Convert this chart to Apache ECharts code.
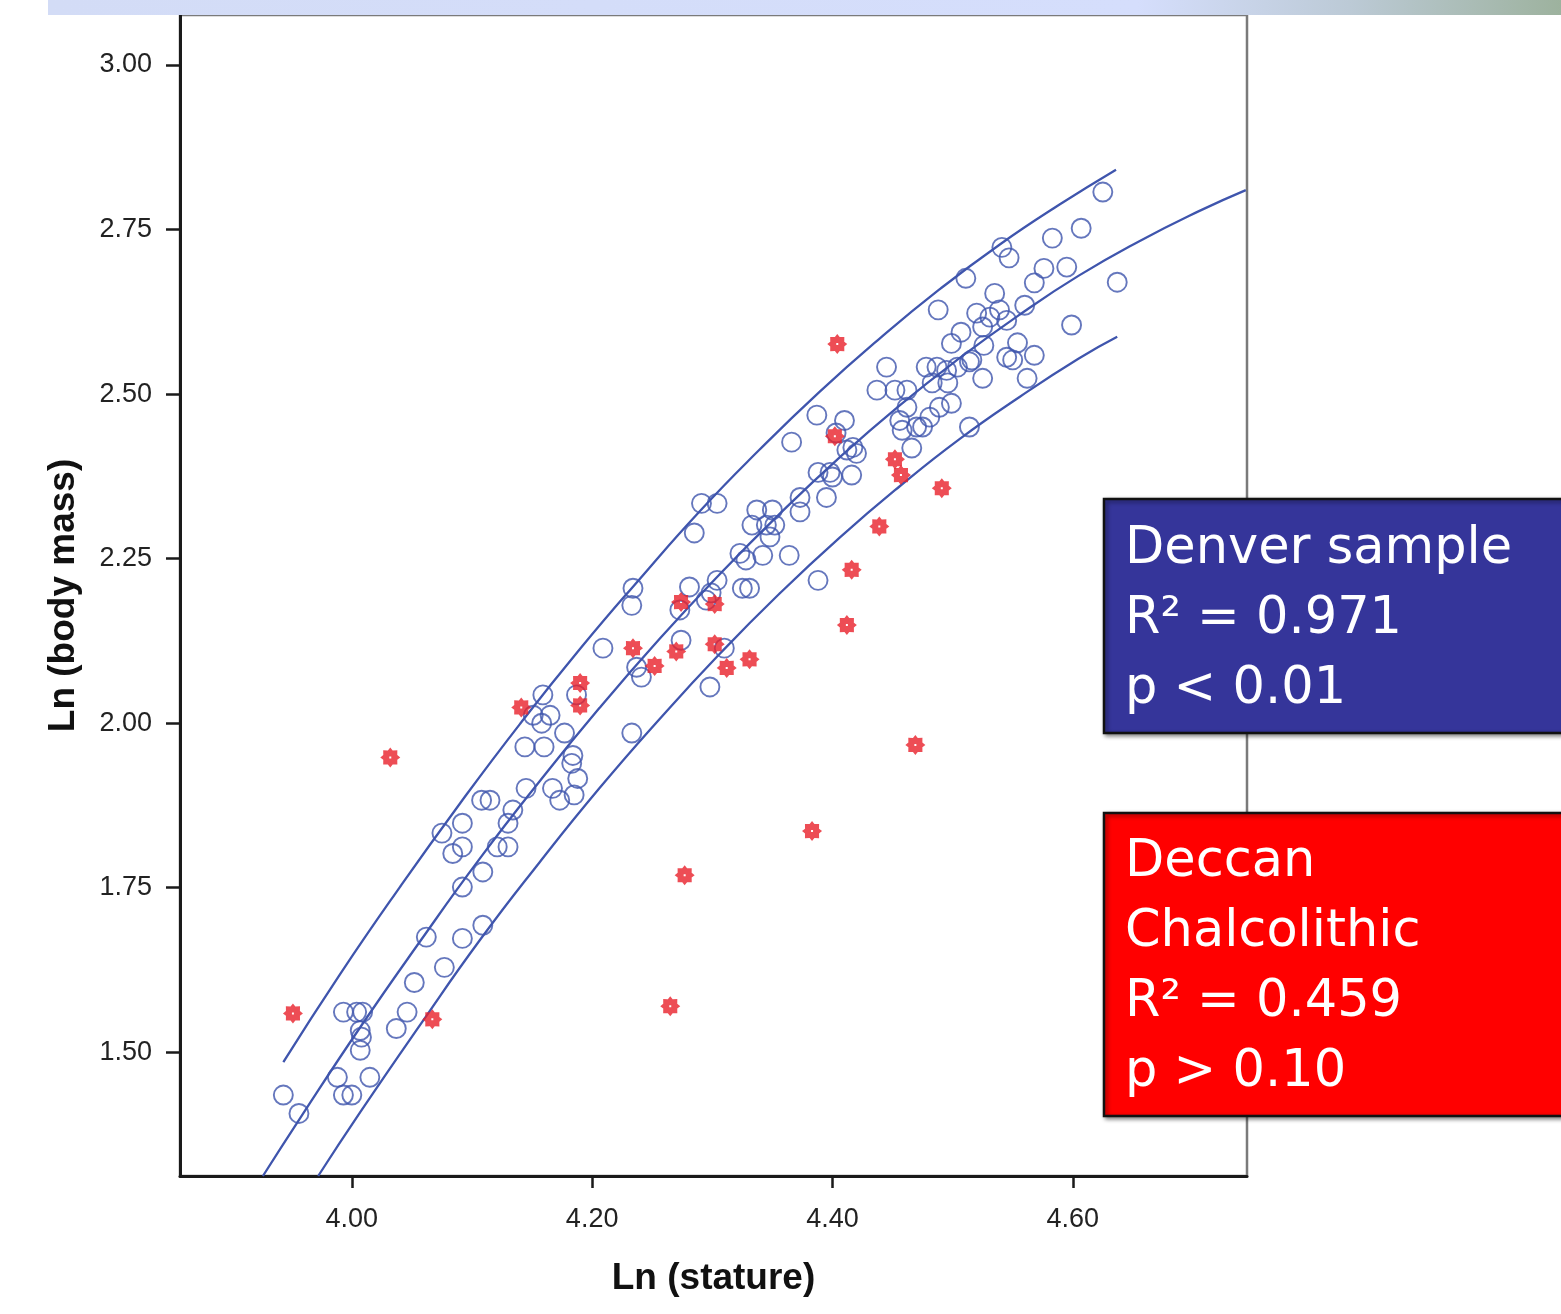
<!DOCTYPE html>
<html>
<head>
<meta charset="utf-8">
<title>Ln (body mass) vs Ln (stature)</title>
<script src="https://cdn.jsdelivr.net/npm/echarts@6/dist/echarts.min.js"></script>
<style>
  html, body { margin: 0; padding: 0; background: #ffffff; }
  #chart { width: 1561px; height: 1314px; }
</style>
</head>
<body>
<div id="chart"></div>
<script>
// Denver sample: Ln (stature), Ln (body mass)
const denverStature = [
  3.943, 3.956, 3.988, 3.993, 4.000, 4.015, 3.993, 4.004, 4.009, 4.007,
  4.008, 4.007, 4.037, 4.046, 4.052, 4.062, 4.077, 4.092, 4.109, 4.092,
  4.109, 4.075, 4.084, 4.092, 4.092, 4.108, 4.115, 4.121, 4.130, 4.130,
  4.134, 4.145, 4.167, 4.185, 4.173, 4.188, 4.183, 4.184, 4.144, 4.160,
  4.177, 4.151, 4.165, 4.158, 4.159, 4.187, 4.209, 4.233, 4.234, 4.237,
  4.241, 4.233, 4.274, 4.273, 4.281, 4.295, 4.299, 4.304, 4.310, 4.298,
  4.325, 4.331, 4.323, 4.328, 4.342, 4.364, 4.388, 4.285, 4.291, 4.304,
  4.333, 4.345, 4.352, 4.348, 4.337, 4.350, 4.373, 4.373, 4.395, 4.366,
  4.387, 4.410, 4.403, 4.412, 4.417, 4.388, 4.398, 4.400, 4.416, 4.445,
  4.437, 4.452, 4.462, 4.478, 4.487, 4.495, 4.499, 4.507, 4.516, 4.496,
  4.483, 4.489, 4.499, 4.462, 4.456, 4.458, 4.475, 4.481, 4.466, 4.514,
  4.420, 4.625, 4.607, 4.583, 4.541, 4.547, 4.511, 4.576, 4.595, 4.568,
  4.637, 4.535, 4.488, 4.560, 4.520, 4.539, 4.545, 4.531, 4.525, 4.526,
  4.554, 4.568, 4.545, 4.550, 4.599, 4.525, 4.562, 4.514, 4.504, 4.470
];
const denverMass = [
  1.435, 1.407, 1.462, 1.435, 1.435, 1.462, 1.561, 1.561, 1.561, 1.533,
  1.523, 1.503, 1.536, 1.561, 1.606, 1.675, 1.629, 1.673, 1.693, 1.751,
  1.774, 1.833, 1.802, 1.812, 1.848, 1.883, 1.883, 1.812, 1.812, 1.848,
  1.868, 1.901, 1.901, 1.891, 1.883, 1.916, 1.939, 1.951, 1.964, 1.964,
  1.985, 2.012, 2.012, 2.000, 2.043, 2.043, 2.114, 2.179, 2.205, 2.085,
  2.070, 1.985, 2.126, 2.172, 2.207, 2.187, 2.198, 2.217, 2.114, 2.055,
  2.205, 2.205, 2.258, 2.248, 2.255, 2.255, 2.217, 2.289, 2.334, 2.334,
  2.301, 2.301, 2.301, 2.283, 2.324, 2.324, 2.343, 2.321, 2.343, 2.427,
  2.468, 2.460, 2.441, 2.415, 2.419, 2.381, 2.381, 2.374, 2.377, 2.541,
  2.506, 2.506, 2.506, 2.541, 2.541, 2.536, 2.577, 2.594, 2.552, 2.517,
  2.517, 2.480, 2.486, 2.480, 2.460, 2.445, 2.450, 2.465, 2.418, 2.450,
  2.410, 2.807, 2.752, 2.737, 2.723, 2.707, 2.676, 2.691, 2.693, 2.669,
  2.670, 2.653, 2.628, 2.635, 2.623, 2.628, 2.612, 2.617, 2.602, 2.574,
  2.578, 2.559, 2.556, 2.552, 2.605, 2.524, 2.524, 2.549, 2.541, 2.450
];

// Deccan Chalcolithic sample
const deccanStature = [
  3.951, 4.032, 4.067, 4.141, 4.190, 4.190, 4.234, 4.252, 4.265, 4.270,
  4.274, 4.277, 4.302, 4.302, 4.312, 4.331, 4.383, 4.404, 4.402, 4.412,
  4.416, 4.439, 4.452, 4.457, 4.469, 4.491
];
const deccanMass = [
  1.559, 1.948, 1.550, 2.024, 2.061, 2.027, 2.114, 2.087, 1.570, 2.109,
  2.184, 1.769, 2.181, 2.120, 2.084, 2.097, 1.836, 2.576, 2.436, 2.149,
  2.233, 2.299, 2.401, 2.377, 1.967, 2.357
];

// Quadratic fit line for the Denver sample
const fitStature = [3.926, 3.957, 4.007, 4.057, 4.106, 4.156, 4.206, 4.256, 4.306,
  4.356, 4.406, 4.456, 4.506, 4.556, 4.605, 4.655, 4.705, 4.744];
const fitMass = [1.312, 1.400, 1.538, 1.669, 1.793, 1.911, 2.023, 2.128, 2.226,
  2.318, 2.404, 2.483, 2.555, 2.621, 2.680, 2.732, 2.778, 2.810];

// Upper and lower prediction bounds
const upperStature = [3.943, 3.990, 4.040, 4.090, 4.140, 4.190, 4.240, 4.289,
  4.339, 4.389, 4.439, 4.489, 4.539, 4.589, 4.636];
const upperMass = [1.485, 1.618, 1.751, 1.878, 1.999, 2.113, 2.220, 2.321,
  2.415, 2.503, 2.584, 2.659, 2.727, 2.788, 2.841];
const lowerStature = [3.972, 4.007, 4.057, 4.106, 4.156, 4.206, 4.256, 4.306,
  4.356, 4.406, 4.456, 4.506, 4.556, 4.605, 4.637];
const lowerMass = [1.312, 1.409, 1.542, 1.669, 1.788, 1.901, 2.006, 2.105,
  2.197, 2.282, 2.360, 2.432, 2.496, 2.554, 2.587];

// Axis ticks
const xTicks = [4.00, 4.20, 4.40, 4.60];
const yTicks = [1.50, 1.75, 2.00, 2.25, 2.50, 2.75, 3.00];

const zip = (xs, ys) => xs.map((x, i) => [x, ys[i]]);

const BLUE = '#3f55ad';
// 8-point gear-like star with a small hollow centre
const STAR = 'path://M20 10 L17 12.4 L17.07 17.07 L12.4 17 L10 20 L7.6 17 L2.93 17.07 L3 12.4 L0 10 L3 7.6 L2.93 2.93 L7.6 3 L10 0 L12.4 3 L17.07 2.93 L17 7.6 Z M11 9 L9 9 L9 11 L11 11 Z';

const curve = (name, xs, ys) => ({
  name: name,
  type: 'line',
  data: zip(xs, ys),
  showSymbol: false,
  smooth: true,
  clip: true,
  lineStyle: { color: BLUE, width: 2.3 },
  z: 2,
  silent: true
});

const chart = echarts.init(document.getElementById('chart'), null, { renderer: 'canvas' });

chart.setOption({
  animation: false,
  backgroundColor: '#ffffff',
  grid: {
    left: 180, right: 314, top: 15, bottom: 138,
    show: true, backgroundColor: '#ffffff',
    borderColor: '#7a7a7a', borderWidth: 2.5
  },
  xAxis: {
    type: 'value',
    min: 3.857, max: 4.745,
    name: 'Ln (stature)',
    nameLocation: 'middle',
    nameGap: 84,
    nameTextStyle: { fontFamily: 'Liberation Sans', fontWeight: 'bold', fontSize: 37, color: '#111' },
    axisLine: { onZero: false, lineStyle: { color: '#1a1a1a', width: 3 } },
    axisTick: { show: true, customValues: xTicks, length: 12, lineStyle: { color: '#1a1a1a', width: 2.5 } },
    axisLabel: {
      customValues: xTicks,
      formatter: v => v.toFixed(2),
      fontFamily: 'Liberation Sans', fontSize: 27, color: '#222', margin: 30
    },
    splitLine: { show: false }
  },
  yAxis: {
    type: 'value',
    min: 1.312, max: 3.076,
    name: 'Ln (body mass)',
    nameLocation: 'middle',
    nameGap: 98,
    nameTextStyle: { fontFamily: 'Liberation Sans', fontWeight: 'bold', fontSize: 37, color: '#111' },
    axisLine: { onZero: false, lineStyle: { color: '#1a1a1a', width: 3 } },
    axisTick: { show: true, customValues: yTicks, length: 14, lineStyle: { color: '#1a1a1a', width: 2.5 } },
    axisLabel: {
      customValues: yTicks,
      formatter: v => v.toFixed(2),
      fontFamily: 'Liberation Sans', fontSize: 27, color: '#222', margin: 28
    },
    splitLine: { show: false }
  },
  series: [
    curve('Fit', fitStature, fitMass),
    curve('Upper bound', upperStature, upperMass),
    curve('Lower bound', lowerStature, lowerMass),
    {
      name: 'Denver sample',
      type: 'scatter',
      data: zip(denverStature, denverMass),
      symbol: 'circle',
      symbolSize: 19,
      itemStyle: { color: 'rgba(0,0,0,0)', borderColor: BLUE, borderWidth: 1.9 },
      z: 3
    },
    {
      name: 'Deccan Chalcolithic',
      type: 'scatter',
      data: zip(deccanStature, deccanMass),
      symbol: STAR,
      symbolSize: 20,
      itemStyle: { color: '#e8202a' },
      z: 4
    }
  ],
  graphic: [
    {
      type: 'rect',
      z: 100,
      shape: { x: 48, y: 0, width: 1513, height: 15 },
      style: {
        fill: {
          type: 'linear', x: 0, y: 0, x2: 1, y2: 1,
          colorStops: [
            { offset: 0, color: '#d3dcf6' },
            { offset: 0.72, color: '#d5defc' },
            { offset: 0.86, color: '#bccad6' },
            { offset: 1, color: '#9db29e' }
          ]
        }
      }
    },
    {
      type: 'group',
      z: 100,
      children: [
        {
          type: 'rect',
          shape: { x: 1104, y: 499, width: 470, height: 234 },
          style: {
            fill: '#35359a', stroke: '#111111', lineWidth: 2.5,
            shadowBlur: 4, shadowOffsetX: 2, shadowOffsetY: 2, shadowColor: 'rgba(0,0,0,0.45)'
          }
        },
        {
          type: 'text',
          x: 1125, y: 515,
          style: {
            text: 'Denver sample\nR² = 0.971\np < 0.01',
            fill: '#ffffff',
            font: '51px "DejaVu Sans"',
            lineHeight: 70
          }
        },
        {
          type: 'rect',
          shape: { x: 1104, y: 813, width: 470, height: 303 },
          style: {
            fill: '#ff0000', stroke: '#111111', lineWidth: 2.5,
            shadowBlur: 4, shadowOffsetX: 2, shadowOffsetY: 2, shadowColor: 'rgba(0,0,0,0.45)'
          }
        },
        {
          type: 'text',
          x: 1125, y: 828,
          style: {
            text: 'Deccan\nChalcolithic\nR² = 0.459\np > 0.10',
            fill: '#ffffff',
            font: '51px "DejaVu Sans"',
            lineHeight: 70
          }
        }
      ]
    }
  ]
});
</script>
</body>
</html>
